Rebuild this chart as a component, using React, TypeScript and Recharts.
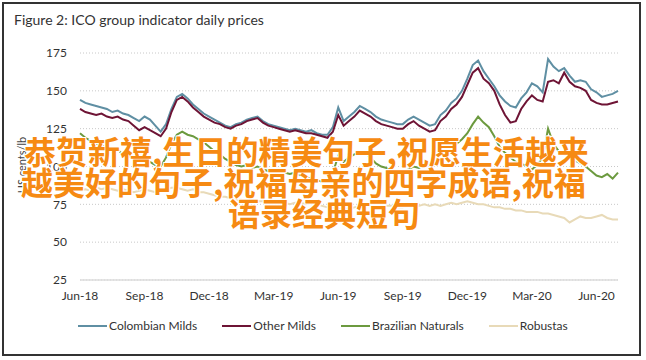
import React from 'react'
import { LineChart, Line, XAxis, YAxis, CartesianGrid } from 'recharts'

// weekly readings, Jun-2018 .. early Jul-2020 (US cents/lb)
const colombianMilds = [
  144, 142, 141, 140, 139, 138, 136, 137, 135, 134, 132, 130, 133, 131, 127, 123,
  128, 138, 146, 148, 145, 141, 138, 135, 133, 131, 129, 127, 126, 128, 129, 131,
  132, 133, 130, 128, 127, 126, 125, 124, 125, 124, 123, 124, 122, 121, 121, 126,
  139, 130, 133, 136, 140, 138, 136, 133, 131, 130, 129, 128, 128, 131, 133, 131,
  129, 127, 128, 134, 137, 142, 145, 150, 158, 167, 170, 163, 158, 153, 147, 143,
  140, 139, 145, 149, 155, 153, 149, 171, 166, 163, 165, 160, 156, 157, 156, 151,
  149, 146, 147, 148, 150,
]
const otherMilds = [
  138, 136, 135, 134, 135, 133, 132, 133, 131, 130, 127, 124, 126, 124, 122, 120,
  125, 136, 144, 146, 143, 139, 136, 133, 131, 129, 128, 126, 125, 127, 128, 130,
  131, 132, 129, 127, 126, 125, 124, 123, 124, 123, 122, 122, 121, 120, 119, 123,
  134, 127, 130, 133, 137, 135, 133, 130, 128, 127, 126, 125, 125, 128, 130, 127,
  125, 123, 124, 130, 133, 138, 141, 146, 154, 162, 165, 158, 155, 150, 141, 134,
  129, 130, 138, 143, 147, 144, 143, 156, 157, 155, 162, 156, 153, 152, 150, 144,
  142, 141, 141, 142, 143,
]
const brazilianNaturals = [
  122, 119, 117, 115, 114, 112, 110, 111, 108, 107, 105, 104, 103, 103, 101, 100,
  106, 115, 121, 123, 121, 120, 118, 116, 113, 110, 108, 105, 103, 101, 100, 101,
  99, 100, 98, 97, 96, 97, 96, 95, 96, 94, 93, 92, 91, 90, 90, 96,
  107, 103, 106, 108, 110, 109, 106, 102, 100, 99, 98, 97, 96, 98, 100, 99,
  101, 102, 104, 108, 110, 112, 115, 118, 122, 128, 133, 129, 126, 120, 113, 109,
  106, 103, 102, 100, 98, 101, 106, 125, 115, 110, 108, 106, 104, 102, 100, 97,
  94, 93, 95, 92, 96,
]
const robustas = [
  84, 85, 84, 86, 85, 86, 85, 84, 85, 84, 83, 84, 85, 84, 83, 84,
  85, 86, 86, 85, 84, 85, 83, 83, 82, 81, 80, 80, 79, 78, 78, 77,
  78, 77, 77, 76, 77, 76, 76, 75, 76, 76, 75, 76, 75, 74, 73, 73,
  72, 71, 72, 73, 74, 75, 75, 76, 75, 74, 74, 73, 73, 74, 73, 74,
  75, 74, 75, 74, 75, 76, 75, 76, 77, 76, 75, 75, 74, 73, 73, 72,
  72, 71, 71, 70, 70, 70, 69, 69, 68, 67, 66, 63, 65, 67, 66, 66,
  67, 68, 66, 65, 65,
]

const monthTicks = [0, 3, 6, 9, 12, 15, 18, 21, 24]
const monthLabels = ['Jun-18', 'Sep-18', 'Dec-18', 'Mar-19', 'Jun-19', 'Sep-19', 'Dec-19', 'Mar-20', 'Jun-20']
const yTicks = [25, 50, 75, 100, 125, 150, 175]

const series = [
  { key: 'robustas', name: 'Robustas', color: '#e8dab8', values: robustas },
  { key: 'brazilian', name: 'Brazilian Naturals', color: '#6c9a3f', values: brazilianNaturals },
  { key: 'colombian', name: 'Colombian Milds', color: '#5f8fa3', values: colombianMilds },
  { key: 'other', name: 'Other Milds', color: '#6e1435', values: otherMilds },
]
const legendOrder = ['colombian', 'other', 'brazilian', 'robustas']

// x is months since Jun-18, one row per week
const data = colombianMilds.map((_, i) => {
  const row: Record<string, number> = { t: i / 4 }
  series.forEach((s) => { row[s.key] = s.values[i] })
  return row
})

const font = 'Lato, "Open Sans", sans-serif'

const overlay = [
  { text: '恭贺新禧,生日的精美句子,祝愿生活越来', left: 24, top: 134 },
  { text: '越美好的句子,祝福母亲的四字成语,祝福', left: 21, top: 165 },
  { text: '语录经典短句', left: 228, top: 196 },
]

export default function App() {
  return (
    <div style={{ position: 'fixed', left: 0, top: 0, width: 646, height: 360, background: '#fff', fontFamily: font }}>
      <div style={{ position: 'absolute', left: 2, top: 2, width: 639, height: 354, border: '2px solid #333', boxSizing: 'border-box' }} />
      <div style={{ position: 'absolute', left: 14, top: 11, fontSize: 14, color: '#333' }}>
        Figure 2: ICO group indicator daily prices
      </div>
      <div style={{
        position: 'absolute', left: 21, top: 165, fontSize: 11, color: '#444',
        transform: 'translate(-50%, -50%) rotate(-90deg)', whiteSpace: 'nowrap',
      }}>
        US cents/lb
      </div>
      <div style={{ position: 'absolute', left: 0, top: 0 }}>
        <LineChart width={646} height={360} data={data} margin={{ top: 53, right: 28, bottom: 50, left: 20 }}>
          <CartesianGrid vertical={false} stroke="#c8c8c8" strokeDasharray="1 2" />
          <XAxis
            dataKey="t" type="number" domain={[0, 25]} ticks={monthTicks}
            tickFormatter={(v) => monthLabels[monthTicks.indexOf(v)]}
            height={30} tickLine={false} tickSize={0} tickMargin={11}
            axisLine={{ stroke: '#dcdcdc', strokeWidth: 1.5 }}
            tick={{ fontSize: 12, fill: '#333', fontFamily: font }}
          />
          <YAxis
            domain={[25, 175]} ticks={yTicks} width={60} axisLine={false} tickLine={false}
            tickSize={0} tickMargin={13} tick={{ fontSize: 12, fill: '#333', fontFamily: font }}
          />
          {series.map((s) => (
            <Line key={s.key} dataKey={s.key} stroke={s.color} strokeWidth={2} dot={false} isAnimationActive={false} />
          ))}
        </LineChart>
      </div>
      <div style={{ position: 'absolute', left: 78, top: 318, display: 'flex', gap: 25, fontSize: 12, color: '#333' }}>
        {legendOrder.map((k) => {
          const s = series.find((x) => x.key === k)!
          return (
            <div key={k} style={{ display: 'flex', alignItems: 'center' }}>
              <span style={{ width: 29, height: 2, background: s.color, marginRight: 2 }} />
              <span>{s.name}</span>
            </div>
          )
        })}
      </div>
      {overlay.map((o) => (
        <div key={o.text} style={{
          position: 'absolute', left: o.left, top: o.top, fontSize: 32, lineHeight: '32px',
          fontFamily: '"Noto Sans CJK SC", sans-serif', fontWeight: 700, color: '#f68a12', whiteSpace: 'nowrap',
          textShadow: '1px 1px 0 #fff, -1px -1px 0 #fff, 1px -1px 0 #fff, -1px 1px 0 #fff',
        }}>
          {o.text}
        </div>
      ))}
    </div>
  )
}
